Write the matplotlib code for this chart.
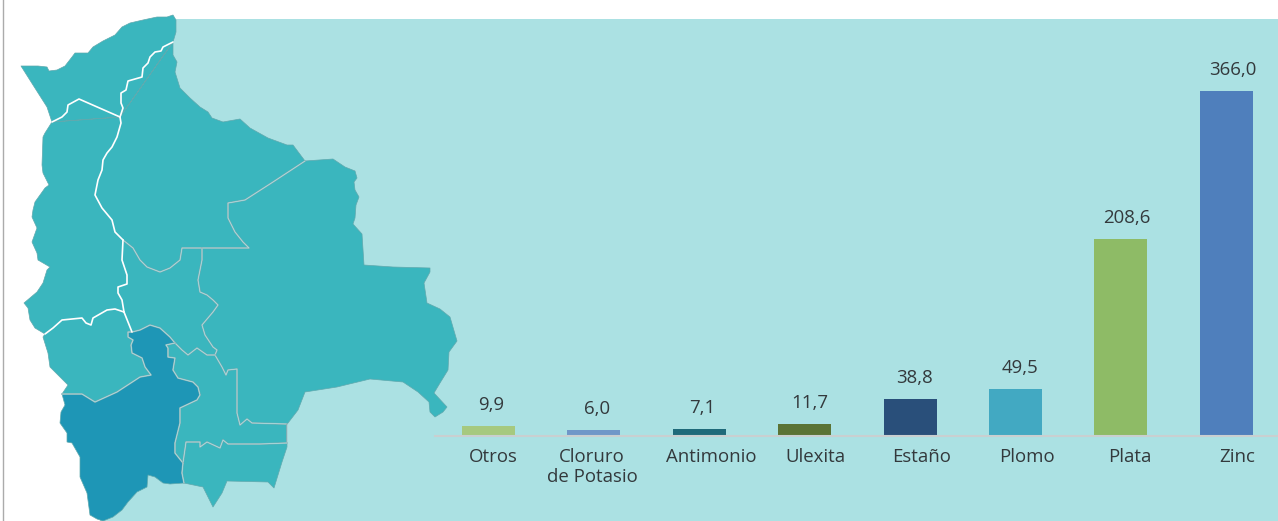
import matplotlib
matplotlib.use("Agg")
import matplotlib.pyplot as plt
from matplotlib.patches import Polygon, Rectangle

plt.rcParams["font.family"] = ["Open Sans", "DejaVu Sans"]

# Chart data
categories = ["Otros", "Cloruro\nde Potasio", "Antimonio", "Ulexita", "Estaño", "Plomo", "Plata", "Zinc"]
values = [9.9, 6.0, 7.1, 11.7, 38.8, 49.5, 208.6, 366.0]
value_labels = ["9,9", "6,0", "7,1", "11,7", "38,8", "49,5", "208,6", "366,0"]
bar_colors = ["#A6C97F", "#6F97C8", "#1F6A7A", "#5B7335", "#294F7A", "#42A9C2", "#8EBB66", "#4F7FBC"]

# Map outlines (image pixels), one list per shared border
pando_outer = [(21, 66), (38, 66), (47, 67), (49, 71), (57, 70), (65, 66), (72, 57), (75, 53), (88, 53), (93, 47),
               (103, 41), (115, 35), (122, 27), (130, 23), (143, 20), (157, 17), (167, 17), (173, 15), (176, 20),
               (176, 32), (173, 42)]
pando_beni = [(173, 42), (163, 47), (161, 51), (155, 52), (150, 57), (148, 63), (143, 68), (142, 77), (128, 81),
              (126, 90), (121, 93), (121, 103), (123, 108), (120, 117)]
pando_lapaz = [(120, 117), (79, 99), (68, 105), (67, 112), (62, 117), (52, 122)]
pando_west = [(52, 122), (47, 107), (33, 85), (21, 66)]
beni_lapaz = [(120, 117), (121, 123), (117, 137), (112, 147), (107, 153), (103, 160), (102, 170), (98, 180),
              (95, 195), (102, 208), (112, 220), (115, 232), (123, 240)]
beni_cocha = [(123, 240), (133, 248), (140, 260), (147, 267), (160, 272), (170, 268), (180, 260), (182, 248), (202, 248)]
beni_sc = [(202, 248), (249, 248), (243, 242), (235, 232), (228, 218), (228, 203), (245, 200), (273, 182), (305, 161)]
beni_outer = [(173, 42), (173, 55), (177, 62), (175, 72), (180, 88), (190, 98), (200, 107), (208, 112), (212, 118),
              (223, 122), (240, 119), (250, 128), (268, 138), (287, 145), (293, 145), (305, 161)]
lapaz_cocha = [(123, 240), (122, 260), (127, 275), (127, 284), (118, 287), (118, 293), (122, 300), (124, 312)]
lapaz_oruro = [(124, 312), (115, 309), (107, 310), (93, 318), (91, 325), (86, 323), (82, 318), (62, 320), (53, 328), (45, 334)]
lapaz_west = [(45, 334), (35, 328), (30, 320), (28, 308), (24, 303), (37, 292), (43, 283), (47, 270), (50, 267),
              (38, 260), (37, 253), (32, 242), (37, 228), (32, 217), (33, 210), (35, 202), (45, 188), (49, 185),
              (43, 173), (42, 165), (43, 137), (45, 133), (52, 122)]
oruro_west = [(45, 334), (43, 337), (48, 353), (50, 367), (63, 380), (68, 385), (62, 394)]
oruro_potosi = [(62, 394), (82, 394), (95, 402), (117, 392), (140, 377), (151, 375), (145, 367), (142, 358),
                (132, 353), (131, 345), (133, 340), (128, 337), (128, 332), (132, 332)]
oruro_cocha = [(124, 312), (132, 332)]
cocha_potosi = [(132, 332), (140, 330), (150, 325), (160, 328), (170, 337), (175, 343)]
cocha_chuq = [(175, 343), (182, 350), (188, 355), (197, 348), (207, 355), (215, 355)]
cocha_sc = [(215, 355), (217, 350), (213, 347), (205, 335), (202, 325), (213, 312), (218, 305), (213, 300),
            (207, 295), (200, 292), (198, 280), (202, 260), (202, 248)]
chuq_sc = [(215, 355), (222, 367), (226, 375), (228, 370), (237, 369), (237, 413), (240, 425), (247, 419), (252, 423), (287, 424)]
chuq_east = [(287, 424), (287, 443)]
chuq_tarija = [(287, 443), (260, 444), (228, 444), (223, 440), (220, 448), (207, 442), (200, 447), (200, 442), (186, 442), (183, 463)]
potosi_chuq = [(175, 343), (166, 345), (168, 348), (168, 357), (175, 358), (173, 370), (178, 378), (193, 382),
               (198, 387), (200, 395), (197, 400), (180, 408), (180, 423), (175, 443), (175, 453), (183, 463)]
potosi_tarija = [(183, 463), (182, 473), (184, 483)]
tarija_outer = [(287, 443), (287, 447), (282, 462), (274, 488), (268, 482), (227, 481), (222, 493), (213, 507),
                (207, 495), (203, 487), (184, 483)]
potosi_outer = [(184, 483), (170, 484), (163, 483), (155, 477), (148, 475), (147, 487), (137, 492), (128, 502),
                (122, 510), (113, 517), (103, 521), (97, 519), (90, 515), (87, 493), (80, 477), (80, 457),
                (72, 443), (67, 442), (67, 433), (60, 423), (61, 412), (65, 405), (62, 394)]
sc_outer = [(305, 161), (333, 159), (345, 167), (355, 171), (357, 178), (354, 182), (355, 190), (359, 197), (356, 205),
            (355, 218), (353, 224), (362, 234), (364, 265), (393, 267), (430, 268), (430, 272), (424, 283), (427, 303),
            (440, 309), (450, 317), (457, 341), (449, 352), (448, 370), (440, 383), (434, 393), (447, 407), (443, 412),
            (435, 417), (430, 412), (429, 402), (418, 392), (403, 382), (370, 379), (337, 387), (305, 392), (298, 410),
            (288, 423), (287, 424)]


def ring(*parts):
    pts = []
    for p in parts:
        pts += p
    return pts


def rev(p):
    return p[::-1]


regions = [
    (ring(pando_outer, pando_beni, pando_lapaz, pando_west), "#3AB6BE"),
    (ring(pando_beni, beni_outer, rev(beni_sc), rev(beni_cocha), rev(beni_lapaz)), "#3AB6BE"),
    (ring(pando_lapaz[::-1], rev(lapaz_west), rev(lapaz_oruro), rev(lapaz_cocha), rev(beni_lapaz)), "#3AB6BE"),
    (ring(lapaz_cocha, oruro_cocha, cocha_potosi, cocha_chuq, cocha_sc, rev(beni_cocha)), "#3AB6BE"),
    (ring(lapaz_oruro, oruro_west, oruro_potosi, rev(oruro_cocha)), "#3AB6BE"),
    (ring(oruro_potosi, cocha_potosi, potosi_chuq, potosi_tarija, potosi_outer), "#1E96B6"),
    (ring(cocha_chuq, chuq_sc, chuq_east, chuq_tarija, rev(potosi_chuq)), "#3AB6BE"),
    (ring(chuq_tarija, potosi_tarija, rev(tarija_outer)), "#3AB6BE"),
    (ring(sc_outer, rev(chuq_sc), cocha_sc, beni_sc), "#3AB6BE"),
]
white_borders = [pando_beni, pando_lapaz, beni_lapaz, lapaz_cocha, lapaz_oruro, oruro_cocha]
pale_borders = [beni_cocha, beni_sc, cocha_sc, chuq_sc, chuq_east, chuq_tarija, cocha_chuq, cocha_potosi,
                potosi_chuq, potosi_tarija, oruro_potosi]

fig = plt.figure(figsize=(12.78, 5.21), dpi=100, facecolor="white")

# Background and map, drawn in image pixels
bg = fig.add_axes([0, 0, 1, 1])
bg.set_xlim(0, 1278)
bg.set_ylim(521, 0)
bg.axis("off")
bg.add_patch(Rectangle((172, 19), 1106, 502, fc="#ABE1E3", ec="none"))
bg.add_patch(Rectangle((100, 440), 76, 81, fc="#ABE1E3", ec="none"))
bg.plot([2.5, 2.5], [0, 521], color="#ABABAB", lw=1)
for pts, col in regions:
    bg.add_patch(Polygon(pts, closed=True, fc=col, ec="#5FA9AE", lw=0.5, joinstyle="round"))
for b in pale_borders:
    xs, ys = zip(*b)
    bg.plot(xs, ys, color="#86AEB2", lw=1.2, solid_capstyle="round")
    bg.plot(xs, ys, color="#B5E2E5", lw=0.5, solid_capstyle="round")
for b in white_borders:
    xs, ys = zip(*b)
    bg.plot(xs, ys, color="white", lw=1.2, solid_capstyle="round")

# Bars: baseline at y=435.5 px, 0.94 px per unit
ax = fig.add_axes([435 / 1278, (521 - 435.5) / 521, 843 / 1278, (435.5 - 19) / 521])
ax.patch.set_alpha(0)
ax.set_xlim(-0.5076, 7.49)
ax.set_ylim(0, 416.5 / 0.941)
positions = list(range(len(categories)))
ax.bar(positions, values, width=0.503, color=bar_colors, zorder=2)
for s in ["top", "left", "right"]:
    ax.spines[s].set_visible(False)
ax.spines["bottom"].set_color("#C9CFD0")
ax.spines["bottom"].set_linewidth(1.5)
ax.set_yticks([])
ax.set_xticks([])

value_shift = [3, 3, 3, 5, 4, 4, 6, 6]
label_shift = [5, -2, 12, 11, 11, 11, 9, 11]
for i, v in enumerate(values):
    ax.annotate(value_labels[i], (i, v), xytext=(value_shift[i], 21), textcoords="offset pixels",
                ha="center", va="center", fontsize=13.4, color="#33393C")
    ax.annotate(categories[i], (i, 0), xytext=(label_shift[i], -12), textcoords="offset pixels",
                ha="center", va="top", fontsize=13.4, color="#33393C", linespacing=1.2,
                annotation_clip=False)

fig.savefig("out.png", dpi=100)
